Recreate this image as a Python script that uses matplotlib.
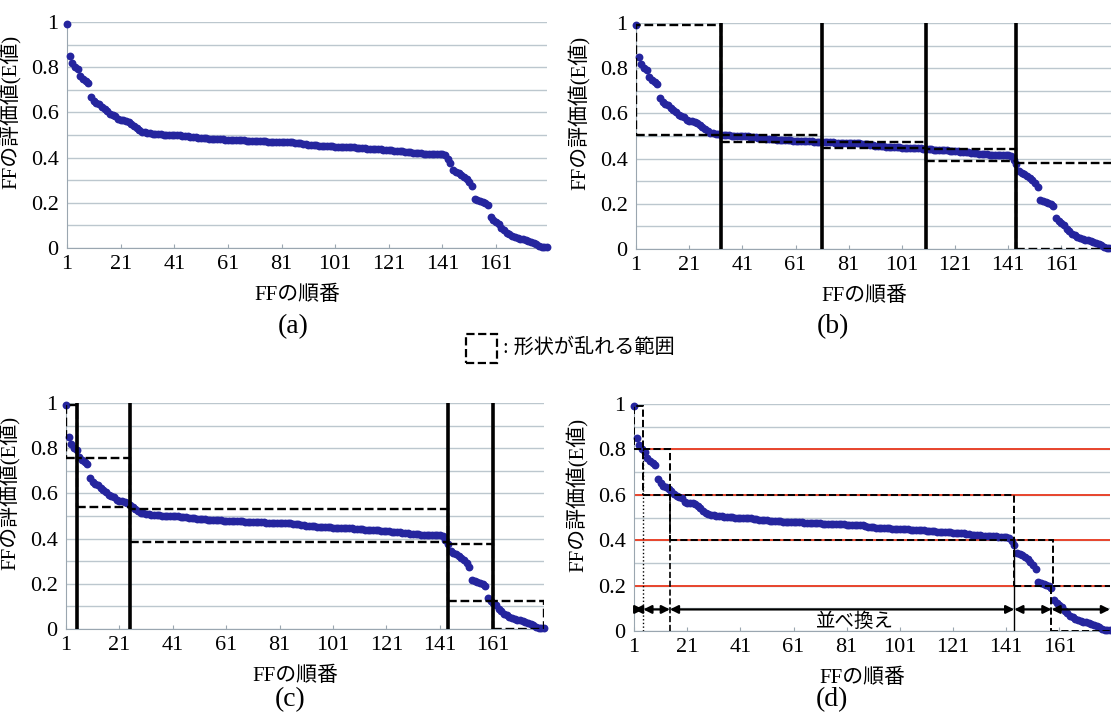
import matplotlib.pyplot as plt
import matplotlib.patches as patches
import numpy as np

plt.rcParams['font.family'] = ['Liberation Serif', 'Noto Sans CJK JP']

# FFの評価値(E値)  (降順に並べたもの, 1..180)
e_vals = [
    0.99, 0.85, 0.82, 0.80, 0.79, 0.76, 0.75, 0.74, 0.73, 0.67,
    0.65, 0.64, 0.635, 0.625, 0.615, 0.605, 0.595, 0.59, 0.585, 0.57,
    0.565, 0.565, 0.563, 0.558, 0.55, 0.54, 0.53, 0.52, 0.515, 0.512,
    0.51, 0.508, 0.506, 0.505, 0.504, 0.503, 0.502, 0.501, 0.50, 0.50,
    0.499, 0.499, 0.498, 0.497, 0.496, 0.494, 0.492, 0.49, 0.489, 0.488,
    0.487, 0.486, 0.485, 0.484, 0.484, 0.483, 0.482, 0.482, 0.481, 0.48,
    0.48, 0.479, 0.478, 0.478, 0.477, 0.476, 0.476, 0.475, 0.475, 0.474,
    0.474, 0.473, 0.473, 0.472, 0.472, 0.471, 0.471, 0.47, 0.47, 0.47,
    0.469, 0.469, 0.468, 0.468, 0.467, 0.466, 0.465, 0.464, 0.46, 0.458,
    0.456, 0.455, 0.454, 0.454, 0.453, 0.452, 0.452, 0.451, 0.45, 0.45,
    0.449, 0.449, 0.448, 0.448, 0.447, 0.447, 0.446, 0.445, 0.444, 0.443,
    0.442, 0.441, 0.44, 0.439, 0.438, 0.437, 0.437, 0.436, 0.435, 0.434,
    0.433, 0.432, 0.431, 0.43, 0.43, 0.428, 0.426, 0.425, 0.423, 0.422,
    0.421, 0.42, 0.419, 0.418, 0.418, 0.417, 0.417, 0.416, 0.416, 0.415,
    0.414, 0.41, 0.396, 0.378, 0.345, 0.338, 0.333, 0.325, 0.316, 0.305,
    0.29, 0.275, 0.215, 0.212, 0.208, 0.204, 0.197, 0.19, 0.135, 0.125,
    0.115, 0.105, 0.09, 0.078, 0.068, 0.062, 0.055, 0.047, 0.044, 0.04,
    0.038, 0.035, 0.032, 0.028, 0.022, 0.016, 0.01, 0.006, 0.004, 0.003,
]
ff_order = np.arange(1, len(e_vals) + 1)

x_ticks = [1, 21, 41, 61, 81, 101, 121, 141, 161]
y_ticks = [0, 0.2, 0.4, 0.6, 0.8, 1]
y_ticklabels = ['0', '0.2', '0.4', '0.6', '0.8', '1']

# (b) 等間隔の分割
b_split = [33, 71, 110, 144]
b_boxes = [(1, 33, 0.505, 0.99), (33, 71, 0.475, 0.505), (71, 110, 0.448, 0.475),
           (110, 144, 0.39, 0.441), (144, 181, 0.0, 0.38)]

# (c) 変化点での分割
c_split = [5, 25, 144, 161]
c_boxes = [(1, 5, 0.757, 0.99), (5, 25, 0.538, 0.757), (25, 144, 0.384, 0.53),
           (144, 161, 0.125, 0.375), (161, 180, 0.0, 0.122)]

# (d) E値の閾値での分割
d_levels = [0.2, 0.4, 0.6, 0.8]
d_split = [4.5, 14.5, 144, 158]
d_boxes = [(1, 4.5, 0.8, 0.99), (4.5, 14.5, 0.6, 0.8), (14.5, 144, 0.4, 0.6),
           (144, 158.5, 0.2, 0.4), (158, 181, 0.0, 0.2)]
d_arrow_x = [1, 4.5, 14.5, 144, 158, 180]
d_arrow_y = 0.095
sort_label = '並べ換え'
sort_label_x = 84

panel_labels = ['(a)', '(b)', '(c)', '(d)']
legend_text = ': 形状が乱れる範囲'

W, H = 1111, 720
fig = plt.figure(figsize=(W / 100, H / 100), dpi=100)


def px_axes(left, top, right, bottom):
    return fig.add_axes([left / W, 1 - bottom / H, (right - left) / W, (bottom - top) / H])


def base(ax):
    ax.set_xlim(1, 180)
    ax.set_ylim(0, 1)
    ax.set_yticks(np.arange(0.1, 1.01, 0.1), minor=True)
    ax.grid(True, axis='y', which='both', color='#bcc7ce', lw=1.0)
    ax.set_axisbelow(True)
    for s in ['top', 'right']:
        ax.spines[s].set_visible(False)
    for s in ['left', 'bottom']:
        ax.spines[s].set_color('#9aa6b0')
    ax.set_xticks(x_ticks)
    ax.set_yticks(y_ticks)
    ax.set_yticklabels(y_ticklabels)
    ax.tick_params(axis='y', which='both', length=0, labelsize=16, pad=6)
    ax.tick_params(axis='x', length=3, direction='in', color='#9aa6b0', labelsize=16, pad=5)
    ax.scatter(ff_order, e_vals, s=32, color='#25259e', zorder=3, clip_on=False, lw=0)
    ax.set_xlabel('FFの順番', fontsize=15)
    ax.xaxis.set_label_coords(0.48, -0.165)
    ax.set_ylabel('FFの評価値(E値)', fontsize=15)
    ax.yaxis.set_label_coords(-0.095, 0.6)


def boxes(ax, items, lw=1.7):
    for x0, x1, y0, y1 in items:
        ax.add_patch(patches.Rectangle((x0, y0), x1 - x0, y1 - y0, fill=False,
                                       ec='k', ls='--', lw=lw, zorder=5, clip_on=True))


ax_a = px_axes(67, 22, 547, 248)
ax_b = px_axes(636, 23, 1112, 249)
ax_c = px_axes(66, 403, 544, 629)
ax_d = px_axes(634, 404, 1110, 631)

for ax in [ax_a, ax_b, ax_c, ax_d]:
    base(ax)

# (b)
ax_b.vlines(b_split, 0, 1, color='k', lw=2.6, zorder=4)
boxes(ax_b, b_boxes)

# (c)
ax_c.vlines(c_split, 0, 1, color='k', lw=2.6, zorder=4)
boxes(ax_c, c_boxes)

# (d)
ax_d.hlines(d_levels, 1, 180, color='#e8452c', lw=1.4, zorder=2)
boxes(ax_d, d_boxes, lw=1.4)
ax_d.vlines(d_split[0], 0, 0.8, color='k', lw=1.0, ls=':', zorder=5)
ax_d.vlines(d_split[1], 0, 0.6, color='k', lw=1.2, ls='--', zorder=5)
ax_d.vlines(d_split[2], 0, 0.4, color='k', lw=1.0, zorder=5)
for xa, xb in zip(d_arrow_x[:-1], d_arrow_x[1:]):
    ax_d.annotate('', xy=(xb, d_arrow_y), xytext=(xa, d_arrow_y),
                  arrowprops=dict(arrowstyle='<|-|>', color='k', lw=1.6,
                                  mutation_scale=12, shrinkA=0, shrinkB=0),
                  zorder=6)
ax_d.text(sort_label_x, 0.0, sort_label, ha='center', va='bottom',
          fontsize=14, zorder=6)

# panel labels
for lab, (x, y) in zip(panel_labels, [(293, 327), (833, 327), (290, 700), (832, 700)]):
    fig.text(x / W, 1 - y / H, lab, ha='center', va='center', fontsize=20)

# legend
fig.patches.append(patches.Rectangle((466 / W, 1 - 363 / H), 31 / W, 29 / H, fill=False,
                                     ec='k', ls='--', lw=1.6, transform=fig.transFigure))
fig.text(503 / W, 1 - 348 / H, legend_text, ha='left', va='center', fontsize=14.5)

fig.savefig('out.png', dpi=100)
